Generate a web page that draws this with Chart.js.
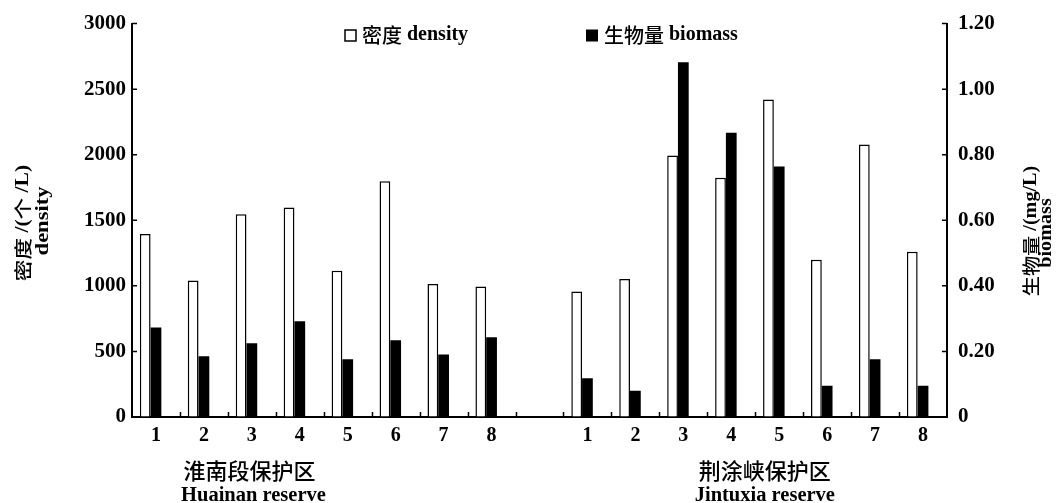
<!DOCTYPE html>
<html>
<head>
<meta charset="utf-8">
<script src="https://cdn.jsdelivr.net/npm/chart.js@4.4.1/dist/chart.umd.min.js"></script>
<style>
  html, body { margin: 0; padding: 0; background: #fff; }
  #wrap { width: 1062px; height: 503px; }
</style>
</head>
<body>
<div id="wrap"><canvas id="grafico" width="1062" height="503"></canvas></div>
<script>
// === dados ===
const categorias = ['1', '2', '3', '4', '5', '6', '7', '8', '', '1', '2', '3', '4', '5', '6', '7', '8'];
const densidade  = [1395, 1040, 1547, 1598, 1115, 1798, 1014, 995, null, 957, 1052, 1994, 1825, 2422, 1200, 2078, 1260];
const biomassa   = [0.273, 0.185, 0.225, 0.292, 0.176, 0.234, 0.191, 0.243, null, 0.118, 0.080, 1.082, 0.867, 0.764, 0.095, 0.176, 0.095];
const ticksDensidade = [0, 500, 1000, 1500, 2000, 2500, 3000];
const ticksBiomassa  = [0, 0.2, 0.4, 0.6, 0.8, 1.0, 1.2];

const SERIF = '"Liberation Serif", "Times New Roman", serif';
const CJK   = '"Noto Sans CJK SC", sans-serif';

// desenha texto misto (chinês em fonte CJK, latim em serif negrito)
function isCJK(ch) { return /[\u3400-\u9fff\uff00-\uffef]/.test(ch); }
function partes(texto) {
  const runs = [];
  for (const ch of texto) {
    const c = isCJK(ch);
    if (runs.length && runs[runs.length - 1].cjk === c) runs[runs.length - 1].t += ch;
    else runs.push({ t: ch, cjk: c });
  }
  return runs;
}
function fonteDe(run, tam, tamCJK) {
  return run.cjk ? '500 ' + tamCJK + 'px ' + CJK : 'bold ' + tam + 'px ' + SERIF;
}
function larguraMista(ctx, texto, tam, tamCJK) {
  let w = 0;
  for (const r of partes(texto)) { ctx.font = fonteDe(r, tam, tamCJK); w += ctx.measureText(r.t).width; }
  return w;
}
// alinhamento: 'left' ou 'center'; y = meio da linha
function textoMisto(ctx, texto, x, y, tam, tamCJK, alinh) {
  let cx = x;
  if (alinh === 'center') cx = x - larguraMista(ctx, texto, tam, tamCJK) / 2;
  ctx.textBaseline = 'middle';
  ctx.textAlign = 'left';
  for (const r of partes(texto)) {
    ctx.font = fonteDe(r, tam, tamCJK);
    ctx.fillText(r.t, cx, y);
    cx += ctx.measureText(r.t).width;
  }
}
function textoVertical(ctx, texto, x, y, tam, tamCJK, estica) {
  ctx.save();
  ctx.translate(x, y);
  ctx.rotate(-Math.PI / 2);
  ctx.scale(estica, 1);
  textoMisto(ctx, texto, 0, 0, tam, tamCJK, 'center');
  ctx.restore();
}

// marcas internas dos eixos, legenda e títulos
const extras = {
  id: 'extras',
  afterDraw(chart) {
    const { ctx, chartArea: a, scales } = chart;
    const x = scales.x, yL = scales.y, yR = scales.y1;
    ctx.save();
    ctx.strokeStyle = '#000';
    ctx.lineWidth = 1.5;
    ctx.beginPath();
    for (let i = 1; i < categorias.length; i++) {
      const px = Math.round((x.getPixelForValue(i - 1) + x.getPixelForValue(i)) / 2) + 0.5;
      ctx.moveTo(px, a.bottom); ctx.lineTo(px, a.bottom - 5);
    }
    ticksDensidade.forEach(v => {
      const py = yL.getPixelForValue(v);
      ctx.moveTo(a.left, py); ctx.lineTo(a.left + 5, py);
    });
    ticksBiomassa.forEach(v => {
      const py = yR.getPixelForValue(v);
      ctx.moveTo(a.right, py); ctx.lineTo(a.right - 5, py);
    });
    ctx.stroke();

    // legenda
    ctx.fillStyle = '#fff';
    ctx.fillRect(345, 30, 11, 11);
    ctx.strokeRect(345, 30, 11, 11);
    ctx.fillStyle = '#000';
    ctx.fillRect(586, 29.5, 12, 12);
    textoMisto(ctx, '密度 density', 362, 35, 20, 20, 'left');
    textoMisto(ctx, '生物量 biomass', 604, 35, 20, 20, 'left');

    // títulos dos eixos y
    textoVertical(ctx, '密度 /(个 /L)', 23, 223, 18, 18, 1.2);
    textoVertical(ctx, 'density', 43, 221, 18, 18, 1.25);
    textoVertical(ctx, '生物量 /(mg/L)', 1031, 231, 18, 18, 1.12);
    textoVertical(ctx, 'biomass', 1046, 233, 18, 18, 1.12);

    // nomes das reservas
    const xL = x.getPixelForValue(1.95), xR = x.getPixelForValue(12.7);
    textoMisto(ctx, '淮南段保护区', xL, 471, 20.5, 22, 'center');
    textoMisto(ctx, 'Huainan reserve', xL + 4, 496, 20.5, 22, 'center');
    textoMisto(ctx, '荆涂峡保护区', xR, 471, 20.5, 22, 'center');
    textoMisto(ctx, 'Jintuxia reserve', xR, 496, 20.5, 22, 'center');
    ctx.restore();
  }
};

const fonteX = { family: SERIF, size: 20, weight: 'bold' };
const fonteY = { family: SERIF, size: 21, weight: 'bold' };

new Chart(document.getElementById('grafico'), {
  type: 'bar',
  data: {
    labels: categorias,
    datasets: [
      {
        label: '密度 density',
        data: densidade,
        yAxisID: 'y',
        backgroundColor: '#fff',
        borderColor: '#000',
        borderWidth: 1.5
      },
      {
        label: '生物量 biomass',
        data: biomassa,
        yAxisID: 'y1',
        backgroundColor: '#000',
        borderWidth: 0
      },
      {
        // série vazia: só empurra o par de barras para a esquerda, como no original
        label: 'espaco',
        data: [],
        yAxisID: 'y'
      }
    ]
  },
  options: {
    responsive: false,
    animation: false,
    layout: { padding: { top: 17, left: 0, right: 0, bottom: 0 } },
    datasets: { bar: { categoryPercentage: 0.673, barPercentage: 1.0 } },
    plugins: {
      legend: { display: false },
      tooltip: { enabled: false }
    },
    scales: {
      x: {
        grid: { display: true, drawOnChartArea: false, drawTicks: false },
        border: { display: true, color: '#000', width: 2 },
        ticks: { color: '#000', font: fonteX, padding: 7, autoSkip: false, maxRotation: 0 },
        afterFit: s => { s.height = 86; }
      },
      y: {
        position: 'left',
        min: 0, max: 3000,
        afterBuildTicks: s => { s.ticks = ticksDensidade.map(v => ({ value: v })); },
        grid: { display: true, drawOnChartArea: false, drawTicks: false },
        border: { display: true, color: '#000', width: 2 },
        ticks: { color: '#000', font: fonteY, padding: 6, callback: v => String(v) },
        afterFit: s => { s.width = 132; }
      },
      y1: {
        position: 'right',
        min: 0, max: 1.2,
        afterBuildTicks: s => { s.ticks = ticksBiomassa.map(v => ({ value: v })); },
        grid: { display: true, drawOnChartArea: false, drawTicks: false },
        border: { display: true, color: '#000', width: 2 },
        ticks: { color: '#000', font: fonteY, padding: 11, callback: v => v === 0 ? '0' : v.toFixed(2) },
        afterFit: s => { s.width = 115; }
      }
    }
  },
  plugins: [extras]
});
</script>
</body>
</html>
